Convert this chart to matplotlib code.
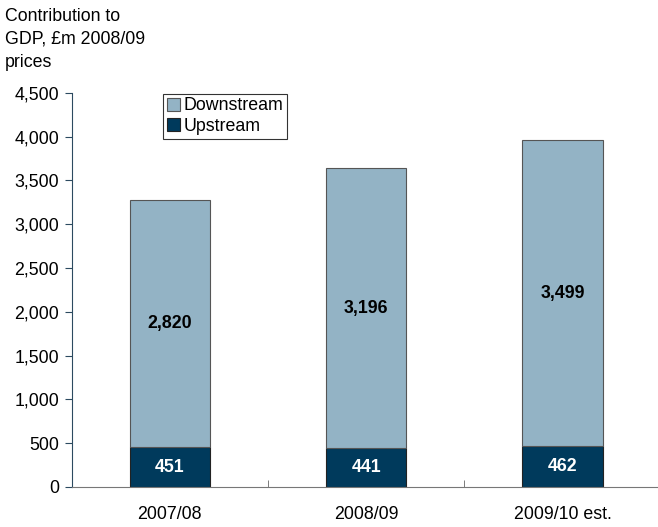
import matplotlib.pyplot as plt
from matplotlib.ticker import FuncFormatter

plt.rcParams['font.family'] = ['Liberation Sans', 'DejaVu Sans']

years = ["2007/08", "2008/09", "2009/10 est."]
upstream = [451, 441, 462]
downstream = [2820, 3196, 3499]

col_up = "#003A5C"
col_down = "#93B3C5"
fs = 12.8

fig = plt.figure(figsize=(6.58, 5.27), dpi=100)
ax = fig.add_axes([0.109, 0.076, 0.895, 0.748])

x = range(len(years))
ax.bar(x, upstream, width=0.41, color=col_up, edgecolor="#222222", linewidth=0.8, label="Upstream")
ax.bar(x, downstream, width=0.41, bottom=upstream, color=col_down, edgecolor="#555555",
       linewidth=0.8, label="Downstream")

for i in x:
    ax.text(i, upstream[i] / 2, f"{upstream[i]:,}", ha="center", va="center",
            color="white", fontsize=fs, fontweight="bold")
    ax.text(i, upstream[i] + downstream[i] / 2, f"{downstream[i]:,}", ha="center",
            va="center", color="black", fontsize=fs, fontweight="bold")

ax.set_xlim(-0.5, 2.5)
ax.set_ylim(0, 4500)
ax.set_yticks(range(0, 4501, 500))
ax.yaxis.set_major_formatter(FuncFormatter(lambda v, p: f"{int(v):,}"))
ax.set_xticks([0, 1, 2])
ax.set_xticklabels(years)
ax.set_xticks([-0.5, 0.5, 1.5, 2.5], minor=True)
ax.tick_params(axis="x", which="major", length=0, pad=14, labelsize=fs)
ax.tick_params(axis="x", which="minor", length=5, color="#666666", direction="in")
ax.tick_params(axis="y", length=5, color="#2C4A60", labelsize=fs, pad=4)

for s in ["top", "right"]:
    ax.spines[s].set_visible(False)
ax.spines["left"].set_color("#2C4A60")
ax.spines["bottom"].set_color("#777777")

handles, labels = ax.get_legend_handles_labels()
leg = ax.legend(handles[::-1], labels[::-1], loc="upper left", bbox_to_anchor=(0.155, 0.997),
                fontsize=fs, frameon=True, fancybox=False, edgecolor="black",
                handlelength=0.75, handleheight=0.75, handletextpad=0.2,
                borderpad=0.2, labelspacing=0.2, borderaxespad=0)
leg.get_frame().set_linewidth(0.8)

fig.text(0.008, 0.985, "Contribution to\nGDP, £m 2008/09\nprices", ha="left", va="top",
         fontsize=fs, linespacing=1.45)

fig.savefig("out.png", dpi=100)
